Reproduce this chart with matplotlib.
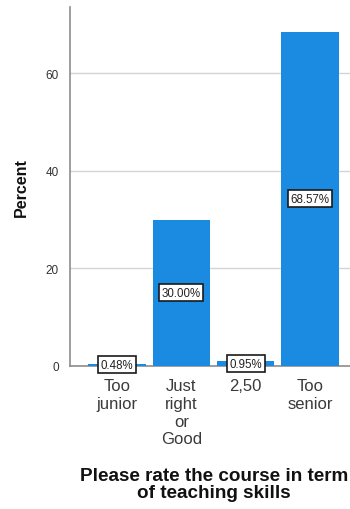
import matplotlib
matplotlib.use("Agg")
import matplotlib.pyplot as plt

plt.rcParams['font.family'] = ['Liberation Sans', 'DejaVu Sans']

# Response categories and their share of respondents (%)
categories = ["Too\njunior", "Just\nright\nor\nGood", "2,50", "Too\nsenior"]
percents = [0.48, 30.00, 0.95, 68.57]
yticks = [0, 20, 40, 60]

bar_color = "#1a8be0"

fig = plt.figure(figsize=(3.5, 5.1), dpi=100)
ax = fig.add_axes([0.2, 0.2804, 0.8, 0.7036])

x = list(range(len(categories)))
ax.bar(x, percents, width=0.89, color=bar_color, zorder=3)

# value labels in boxes at the middle of each bar
for xi, p in zip(x, percents):
    ax.text(xi, p / 2, f"{p:.2f}%", ha="center", va="center", fontsize=8.3,
            color="#222222", zorder=4,
            bbox=dict(boxstyle="square,pad=0.22", fc="white", ec="#1a1a1a", lw=1.2))

ax.set_xlim(-0.73, 3.62)
ax.set_ylim(0, 73.6)
ax.set_yticks(yticks)
ax.yaxis.grid(True, color="#d4d4d4", lw=1.0, zorder=0)
ax.set_axisbelow(True)

ax.set_xticks(x)
ax.set_xticklabels(categories, fontsize=12, color="#3a3a3a", linespacing=1.22)
ax.tick_params(axis="x", length=0, pad=9)
ax.tick_params(axis="y", length=0, pad=8, labelsize=8.5, labelcolor="#333333")

for side in ("top", "right"):
    ax.spines[side].set_visible(False)
for side in ("left", "bottom"):
    ax.spines[side].set_color("#8c8c8c")
    ax.spines[side].set_linewidth(1.2)

ax.set_ylabel("Percent", fontsize=11.5, fontweight="bold", color="#111111", labelpad=12)

fig.text(0.611, 0.016, "Please rate the course in term\nof teaching skills",
         ha="center", va="bottom", fontsize=13.6, fontweight="bold",
         color="#111111", linespacing=0.95)

fig.savefig("out.png", dpi=100)
